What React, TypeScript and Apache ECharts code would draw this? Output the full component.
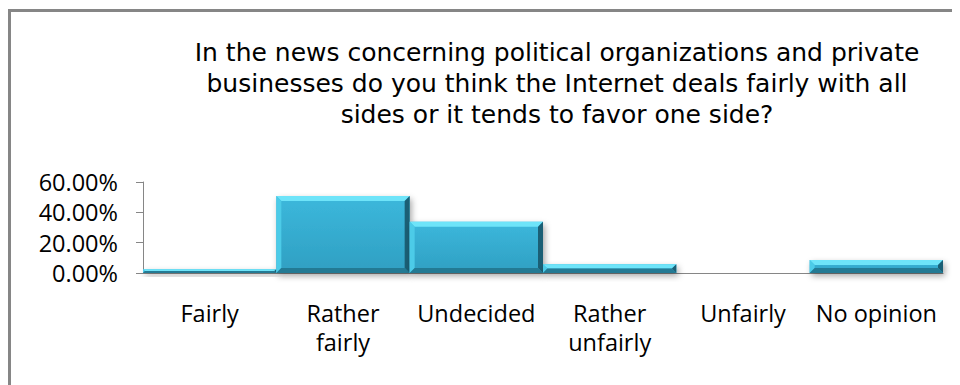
import React, { useEffect, useRef } from "react";
import * as echarts from "echarts";

const categories = ["Fairly", "Rather\nfairly", "Undecided", "Rather\nunfairly", "Unfairly", "No opinion"];
const values = [2.5, 50.8, 33.8, 5.8, 0, 8.6];
const yTicks = { min: 0, max: 60, interval: 20 };
const titleText =
  "In the news concerning political organizations and private\nbusinesses do you think the Internet deals fairly with all\nsides or it tends to favor one side?";

const FONT = "'Open Sans', sans-serif";

export default function App() {
  const ref = useRef<HTMLDivElement>(null);
  useEffect(() => {
    if (!ref.current) return;
    const chart = echarts.init(ref.current, null, { renderer: "svg" });
    const renderItem = (params: any, api: any) => {
      const i = api.value(0);
      const v = api.value(1);
      const top = api.coord([i, v]);
      const base = api.coord([i, 0]);
      const w = api.size([1, 0])[0];
      const x0 = top[0] - w / 2;
      const x1 = top[0] + w / 2;
      const y0 = top[1];
      const y1 = base[1];
      const h = y1 - y0;
      if (h <= 0.5) return null;
      const b = Math.min(5, h / 2);
      return {
        type: "group",
        children: [
          {
            type: "rect",
            shape: { x: x0, y: y0, width: w, height: h },
            style: {
              fill: new echarts.graphic.LinearGradient(0, 0, 0, 1, [
                { offset: 0, color: "#3cb8dc" },
                { offset: 1, color: "#2f9fc2" },
              ]),
              shadowBlur: 6,
              shadowOffsetX: 2,
              shadowOffsetY: 3,
              shadowColor: "rgba(0,0,0,0.35)",
            },
          },
          {
            type: "polygon",
            shape: { points: [[x0, y0], [x1, y0], [x1 - b, y0 + b], [x0 + b, y0 + b]] },
            style: { fill: "#6ee4f9" },
          },
          {
            type: "polygon",
            shape: { points: [[x0, y0], [x0 + b, y0 + b], [x0 + b, y1 - b], [x0, y1]] },
            style: { fill: "#4ccbe8" },
          },
          {
            type: "polygon",
            shape: { points: [[x1, y0], [x1, y1], [x1 - b, y1 - b], [x1 - b, y0 + b]] },
            style: { fill: "#1b5f75" },
          },
          {
            type: "polygon",
            shape: { points: [[x0, y1], [x0 + b, y1 - b], [x1 - b, y1 - b], [x1, y1]] },
            style: { fill: "#237a94" },
          },
        ],
      };
    };
    chart.setOption({
      animation: false,
      backgroundColor: "#ffffff",
      title: {
        text: titleText,
        left: 544,
        top: 24,
        textAlign: "center",
        textStyle: {
          fontFamily: "'DejaVu Sans', sans-serif",
          fontSize: 25,
          lineHeight: 31,
          fontWeight: "normal",
          color: "#000",
        },
      },
      graphic: [
        {
          type: "rect",
          shape: { x: 1.5, y: 2.5, width: 1000, height: 500 },
          style: { fill: "none", stroke: "#868686", lineWidth: 3 },
          silent: true,
        },
      ],
      grid: { left: 135, right: 17, top: 174, bottom: 112 },
      xAxis: {
        type: "category",
        data: categories,
        axisLine: { lineStyle: { color: "#868686", width: 1 } },
        axisTick: { show: false },
        axisLabel: {
          interval: 0,
          margin: 25,
          color: "#000",
          fontFamily: FONT,
          fontSize: 23.5,
          lineHeight: 29,
        },
      },
      yAxis: {
        type: "value",
        min: yTicks.min,
        max: yTicks.max,
        interval: yTicks.interval,
        splitLine: { show: false },
        axisLine: { show: true, lineStyle: { color: "#868686", width: 1 } },
        axisTick: { show: true, length: 7, lineStyle: { color: "#868686" } },
        axisLabel: {
          margin: 25,
          color: "#000",
          fontFamily: FONT,
          fontSize: 23.5,
          formatter: (v: number) => v.toFixed(2) + "%",
        },
      },
      series: [
        {
          type: "custom",
          renderItem,
          data: values.map((v, i) => [i, v]),
          encode: { x: 0, y: 1 },
          clip: false,
        },
      ],
    });
    return () => chart.dispose();
  }, []);
  return <div ref={ref} style={{ width: 952, height: 377 }} />;
}
